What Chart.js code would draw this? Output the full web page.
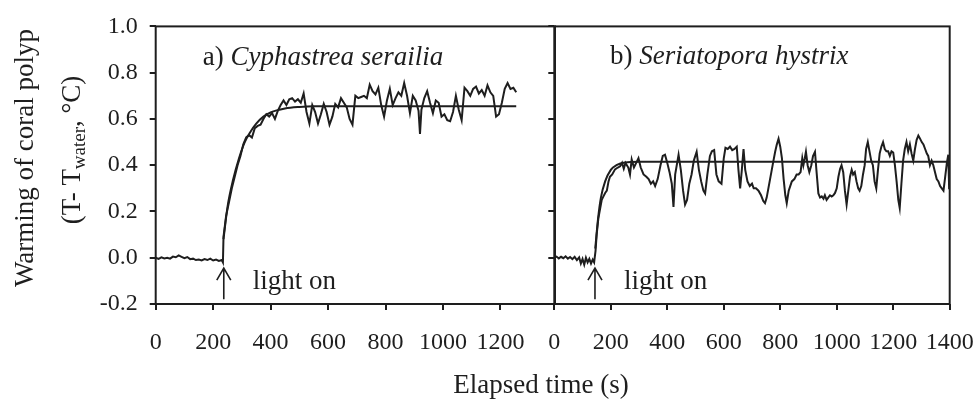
<!DOCTYPE html>
<html>
<head>
<meta charset="utf-8">
<script src="https://cdn.jsdelivr.net/npm/chart.js@4.4.1/dist/chart.umd.min.js"></script>
<style>
  html, body { margin: 0; padding: 0; background: #fff; }
  #wrap { position: relative; width: 976px; height: 400px; }
  canvas { position: absolute; top: 0; }
  #left { left: 0; }
  #right { left: 480px; }
</style>
</head>
<body>
<div id="wrap">
  <canvas id="left" width="976" height="400"></canvas>
  <canvas id="right" width="496" height="400"></canvas>
</div>
<script>
/* Coral polyp warming after light on: two panels */

const INK = "#1e1e1e";
const SERIF = '"Liberation Serif", "Times New Roman", serif';

// y axis (shared by both panels)
const yTicks = [-0.2, 0.0, 0.2, 0.4, 0.6, 0.8, 1.0];
// x axis ticks (s)
const xTicksA = [0, 200, 400, 600, 800, 1000, 1200];
const xTicksB = [0, 200, 400, 600, 800, 1000, 1200, 1400];

// a) Cyphastrea serailia, measured trace [time s, warming °C]
const traceA = [
  [0, 0], [10, -0.005], [20, 0.002], [30, -0.003], [40, 0], [50, -0.004], [60, 0.005], [70, 0.002],
  [80, 0.01], [90, 0.004], [100, -0.002], [110, 0.003], [120, -0.006], [130, -0.004], [140, -0.01],
  [150, -0.008], [160, -0.012], [170, -0.006], [180, -0.01], [190, -0.004], [200, -0.012], [210, -0.008],
  [220, -0.014], [230, -0.01], [234, -0.02],
  [236, 0.09], [245, 0.18], [255, 0.24], [265, 0.3], [275, 0.35], [285, 0.4], [295, 0.44], [305, 0.49],
  [315, 0.52], [325, 0.53], [335, 0.52], [345, 0.56], [355, 0.57], [365, 0.575], [375, 0.6], [385, 0.62],
  [395, 0.61], [405, 0.625], [415, 0.6], [425, 0.635], [435, 0.66], [445, 0.68], [455, 0.66], [465, 0.685],
  [475, 0.69], [485, 0.675], [495, 0.685], [505, 0.67], [515, 0.71], [525, 0.63], [535, 0.58], [545, 0.66],
  [555, 0.63], [565, 0.58], [575, 0.62], [585, 0.665], [595, 0.63], [605, 0.575], [615, 0.61], [625, 0.665],
  [635, 0.65], [645, 0.69], [655, 0.67], [665, 0.65], [675, 0.6], [685, 0.575], [695, 0.7], [705, 0.69],
  [715, 0.695], [725, 0.7], [735, 0.69], [745, 0.748], [755, 0.72], [765, 0.706], [775, 0.735], [785, 0.66],
  [795, 0.61], [805, 0.68], [815, 0.73], [825, 0.66], [835, 0.69], [845, 0.715], [855, 0.7], [865, 0.755],
  [875, 0.7], [885, 0.625], [895, 0.7], [905, 0.68], [915, 0.635], [920, 0.535], [925, 0.64], [935, 0.69],
  [945, 0.72], [955, 0.67], [965, 0.625], [975, 0.68], [985, 0.67], [995, 0.61], [1005, 0.62], [1015, 0.595],
  [1025, 0.59], [1035, 0.63], [1045, 0.7], [1055, 0.64], [1065, 0.595], [1075, 0.735], [1085, 0.72],
  [1095, 0.7], [1105, 0.73], [1115, 0.74], [1125, 0.71], [1135, 0.725], [1145, 0.7], [1155, 0.745],
  [1165, 0.715], [1175, 0.7], [1185, 0.61], [1195, 0.62], [1205, 0.67], [1215, 0.73], [1225, 0.755],
  [1235, 0.73], [1245, 0.735], [1255, 0.715],
];
// a) fitted curve
const fitA = [
  [236, 0.08], [250, 0.22], [270, 0.34], [290, 0.43], [310, 0.5], [330, 0.545], [350, 0.58],
  [375, 0.61], [400, 0.628], [450, 0.645], [500, 0.652], [550, 0.655], [1255, 0.655],
];

// b) Seriatopora hystrix, measured trace
const traceB = [
  [0, 0], [8, 0.005], [16, -0.003], [24, 0.004], [32, -0.002], [40, 0.006], [48, -0.004], [56, 0.003],
  [64, -0.006], [72, 0.004], [80, -0.01], [88, 0.002], [94, -0.025], [100, -0.005], [106, -0.03],
  [112, 0], [118, -0.02], [124, -0.005], [130, -0.025], [136, -0.008], [141, -0.02],
  [146, 0.03], [150, 0.1], [156, 0.17], [162, 0.21], [168, 0.25], [174, 0.265], [180, 0.28], [186, 0.29],
  [192, 0.33], [197, 0.35], [205, 0.36], [215, 0.382], [225, 0.39], [233, 0.395], [240, 0.41], [246, 0.385],
  [252, 0.41], [262, 0.39], [268, 0.36], [274, 0.425], [282, 0.39], [290, 0.41], [298, 0.43], [306, 0.39],
  [316, 0.36], [326, 0.35], [334, 0.34], [342, 0.32], [350, 0.33], [357, 0.31], [366, 0.34], [376, 0.4],
  [384, 0.44], [392, 0.445], [400, 0.41], [408, 0.37], [416, 0.32], [422, 0.22], [428, 0.36], [440, 0.445],
  [448, 0.38], [456, 0.29], [463, 0.23], [470, 0.25], [478, 0.32], [486, 0.36], [494, 0.42], [504, 0.458],
  [512, 0.38], [520, 0.33], [528, 0.29], [534, 0.278], [542, 0.36], [551, 0.44], [558, 0.46], [566, 0.465],
  [574, 0.36], [582, 0.33], [592, 0.32], [600, 0.43], [606, 0.475], [614, 0.47], [622, 0.48], [630, 0.465],
  [638, 0.47], [646, 0.48], [652, 0.38], [658, 0.3], [664, 0.38], [670, 0.47], [676, 0.38], [684, 0.33],
  [692, 0.31], [700, 0.32], [706, 0.3], [714, 0.3], [723, 0.29], [732, 0.27], [740, 0.245], [746, 0.236],
  [752, 0.26], [758, 0.3], [764, 0.34], [770, 0.38], [776, 0.42], [782, 0.458], [788, 0.49], [794, 0.514],
  [800, 0.48], [806, 0.43], [812, 0.34], [818, 0.27], [823, 0.236], [830, 0.29], [841, 0.33], [850, 0.34],
  [858, 0.36], [865, 0.36], [872, 0.37], [878, 0.43], [882, 0.4], [887, 0.43], [891, 0.458], [897, 0.4],
  [903, 0.37], [910, 0.4], [916, 0.44], [923, 0.458], [928, 0.38], [935, 0.278], [941, 0.26], [947, 0.265],
  [953, 0.255], [958, 0.27], [964, 0.25], [970, 0.26], [976, 0.27], [982, 0.265], [988, 0.27], [994, 0.28],
  [1000, 0.3], [1006, 0.35], [1012, 0.385], [1017, 0.4], [1023, 0.37], [1029, 0.29], [1035, 0.23],
  [1041, 0.29], [1047, 0.35], [1053, 0.38], [1058, 0.36], [1064, 0.37], [1070, 0.33], [1076, 0.3],
  [1081, 0.29], [1087, 0.31], [1093, 0.36], [1099, 0.4], [1104, 0.47], [1110, 0.5], [1116, 0.46],
  [1122, 0.42], [1128, 0.4], [1134, 0.33], [1140, 0.3], [1146, 0.38], [1152, 0.45], [1158, 0.48],
  [1164, 0.5], [1170, 0.47], [1176, 0.46], [1182, 0.46], [1188, 0.44], [1194, 0.46], [1200, 0.455],
  [1206, 0.4], [1212, 0.33], [1218, 0.25], [1223, 0.215], [1229, 0.32], [1235, 0.42], [1241, 0.47],
  [1247, 0.5], [1253, 0.46], [1259, 0.49], [1265, 0.45], [1271, 0.42], [1277, 0.47], [1283, 0.51],
  [1289, 0.528], [1295, 0.515], [1301, 0.5], [1307, 0.49], [1313, 0.47], [1319, 0.45], [1324, 0.44],
  [1330, 0.4], [1336, 0.42], [1342, 0.4], [1348, 0.37], [1354, 0.34], [1360, 0.33], [1366, 0.31],
  [1372, 0.3], [1378, 0.29], [1384, 0.35], [1390, 0.41], [1395, 0.445], [1398, 0.3], [1400, 0.35],
];
// b) fitted curve
const fitB = [
  [145, 0.04], [155, 0.17], [165, 0.26], [180, 0.33], [200, 0.38], [220, 0.4], [250, 0.412],
  [300, 0.415], [1400, 0.415],
];

// annotation anchors in data units
const noteA = { label: "a) ", name: "Cyphastrea serailia", x: 164, y: 0.862, arrowX: 237, light: 338 };
const noteB = { label: "b) ", name: "Seriatopora hystrix", x: 197, y: 0.87, arrowX: 144, light: 247 };

const pts = (arr) => arr.map(([x, y]) => ({ x, y }));

function line(data, smooth) {
  return {
    data: pts(data),
    borderColor: INK,
    borderWidth: 2,
    pointRadius: 0,
    tension: 0,
    cubicInterpolationMode: smooth ? "monotone" : "default",
  };
}

function tickGrid() {
  return { display: true, drawOnChartArea: false, drawTicks: true, tickLength: 6, color: INK, lineWidth: 2 };
}

function scales(xMax, xTicks, yLabels, yWidth) {
  return {
    x: {
      type: "linear", min: 0, max: xMax,
      afterBuildTicks: (s) => { s.ticks = xTicks.map((v) => ({ value: v })); },
      // fixed height; end labels may overhang the plot edge like the original
      afterFit: (s) => { s.height = 96; s.paddingLeft = 0; s.paddingRight = 0; },
      grid: tickGrid(),
      border: { display: false },
      ticks: { autoSkip: false, maxRotation: 0, padding: 18, color: INK, font: { family: SERIF, size: 24 }, callback: (v) => String(v) },
    },
    y: {
      type: "linear", min: -0.2, max: 1.0,
      afterBuildTicks: (s) => { s.ticks = yTicks.map((v) => ({ value: v })); },
      afterFit: (s) => { s.width = yWidth; },
      grid: tickGrid(),
      border: { display: false },
      ticks: { padding: 12, color: INK, font: { family: SERIF, size: 24 }, callback: (v) => (yLabels ? v.toFixed(1) : "") },
    },
  };
}

// frame, panel label, arrow + "light on"
function panelPlugin(note) {
  return {
    id: "panel",
    afterDraw(chart) {
      const { ctx, chartArea: a, scales: { x, y } } = chart;
      ctx.save();
      ctx.strokeStyle = INK;
      ctx.lineWidth = 2;
      ctx.strokeRect(a.left, a.top, a.right - a.left, a.bottom - a.top);

      ctx.fillStyle = INK;
      ctx.textBaseline = "middle";
      ctx.textAlign = "left";
      const px = x.getPixelForValue(note.x), py = y.getPixelForValue(note.y);
      ctx.font = `27px ${SERIF}`;
      ctx.fillText(note.label, px, py);
      const w = ctx.measureText(note.label).width;
      ctx.font = `italic 27px ${SERIF}`;
      ctx.fillText(note.name, px + w, py);

      // arrow
      const ax = x.getPixelForValue(note.arrowX);
      const top = y.getPixelForValue(-0.045), bot = y.getPixelForValue(-0.18);
      ctx.lineWidth = 1.6;
      ctx.beginPath();
      ctx.moveTo(ax, bot); ctx.lineTo(ax, top);
      ctx.moveTo(ax - 7, top + 12); ctx.lineTo(ax, top); ctx.lineTo(ax + 7, top + 12);
      ctx.stroke();

      ctx.font = `27px ${SERIF}`;
      ctx.fillText("light on", x.getPixelForValue(note.light), y.getPixelForValue(-0.105));
      ctx.restore();
    },
  };
}

// axis titles (drawn on the left canvas, which spans the full width)
const titlePlugin = {
  id: "titles",
  afterDraw(chart) {
    const { ctx } = chart;
    ctx.save();
    ctx.fillStyle = INK;
    ctx.textAlign = "center";
    ctx.textBaseline = "middle";
    ctx.font = `27px ${SERIF}`;
    ctx.fillText("Elapsed time (s)", 541, 386);

    ctx.translate(26, 158);
    ctx.rotate(-Math.PI / 2);
    ctx.fillText("Warming of coral polyp", 0, 0);
    ctx.restore();

    ctx.save();
    ctx.fillStyle = INK;
    ctx.textBaseline = "middle";
    ctx.textAlign = "left";
    ctx.translate(73, 150);
    ctx.rotate(-Math.PI / 2);
    const big = `27px ${SERIF}`, small = `19px ${SERIF}`;
    const p1 = "(T- T", p2 = "water", p3 = ", \u00B0C)";
    ctx.font = big; const w1 = ctx.measureText(p1).width, w3 = ctx.measureText(p3).width;
    ctx.font = small; const w2 = ctx.measureText(p2).width;
    let sx = -(w1 + w2 + w3) / 2;
    ctx.font = big; ctx.fillText(p1, sx, 0); sx += w1;
    ctx.font = small; ctx.fillText(p2, sx, 7); sx += w2;
    ctx.font = big; ctx.fillText(p3, sx, 0);
    ctx.restore();
  },
};

const common = {
  responsive: false,
  animation: false,
  events: [],
  plugins: { legend: { display: false }, tooltip: { enabled: false } },
};

new Chart(document.getElementById("left"), {
  type: "line",
  data: { datasets: [line(traceA, false), line(fitA, true)] },
  options: {
    ...common,
    layout: { padding: { left: 0, top: 16, right: 976 - 555, bottom: 0 } },
    scales: scales(1390, xTicksA, true, 155.7),
  },
  plugins: [panelPlugin(noteA), titlePlugin],
});

new Chart(document.getElementById("right"), {
  type: "line",
  data: { datasets: [line(traceB, false), line(fitB, true)] },
  options: {
    ...common,
    layout: { padding: { left: 0, top: 16, right: 26.3, bottom: 0 } },
    scales: scales(1400, xTicksB, false, 74.3),
  },
  plugins: [panelPlugin(noteB)],
});
</script>
</body>
</html>
